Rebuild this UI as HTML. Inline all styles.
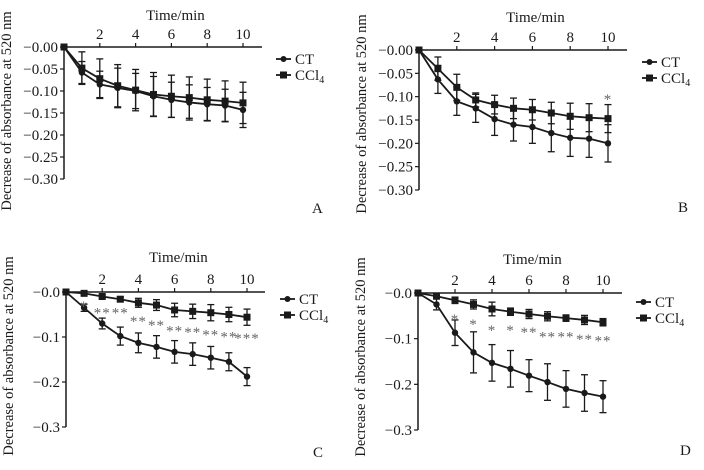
<!DOCTYPE html>
<html><head><meta charset="utf-8"><style>
html,body{margin:0;padding:0;background:#fff;}
svg{display:block;font-family:"Liberation Serif",serif;}
</style></head><body>
<svg id="fig" width="704" height="470" viewBox="0 0 704 470" xmlns="http://www.w3.org/2000/svg"></svg>
<script>
const times = [0,1,2,3,4,5,6,7,8,9,10];
const xTickLabels = ["2","4","6","8","10"];
const xTickValues = [2,4,6,8,10];
const yTicksAB = [0,-0.05,-0.10,-0.15,-0.20,-0.25,-0.30];
const yTickLabelsAB = ["-0.00","-0.05","-0.10","-0.15","-0.20","-0.25","-0.30"];
const yTicksCD = [0,-0.1,-0.2,-0.3];
const yTickLabelsCD = ["-0.0","-0.1","-0.2","-0.3"];

const aCT = [0,-0.058,-0.085,-0.093,-0.100,-0.112,-0.120,-0.126,-0.130,-0.133,-0.143];
const aCTerr = [0,0.025,0.030,0.045,0.040,0.045,0.040,0.040,0.038,0.037,0.040];
const aCCl4 = [0,-0.048,-0.072,-0.088,-0.098,-0.108,-0.112,-0.115,-0.120,-0.123,-0.127];
const aCCl4err = [0,0.037,0.045,0.048,0.047,0.050,0.048,0.047,0.047,0.046,0.047];
const aStars = [];
const aStarY = [];

const bCT = [0,-0.063,-0.110,-0.125,-0.148,-0.160,-0.165,-0.178,-0.188,-0.190,-0.200];
const bCTerr = [0,0.030,0.030,0.030,0.035,0.035,0.035,0.040,0.040,0.040,0.040];
const bCCl4 = [0,-0.040,-0.080,-0.107,-0.117,-0.125,-0.128,-0.135,-0.142,-0.145,-0.147];
const bCCl4err = [0,0.025,0.028,0.015,0.020,0.022,0.022,0.023,0.028,0.030,0.030];
const bStars = ["","","","","","","","","","","*"];
const bStarY = [0,0,0,0,0,0,0,0,0,0,-0.096];

const cCT = [0,-0.035,-0.070,-0.098,-0.113,-0.122,-0.133,-0.138,-0.146,-0.155,-0.188];
const cCTerr = [0,0.008,0.012,0.020,0.022,0.025,0.025,0.025,0.025,0.020,0.020];
const cCCl4 = [0,-0.003,-0.010,-0.016,-0.024,-0.029,-0.040,-0.043,-0.046,-0.050,-0.056];
const cCCl4err = [0,0.003,0.004,0.005,0.010,0.012,0.015,0.016,0.018,0.016,0.018];
const cStars = ["","*","**","**","**","**","**","**","**","**","***"];
const cStarY = [0,-0.022,-0.037,-0.037,-0.055,-0.064,-0.077,-0.080,-0.086,-0.090,-0.093];

const dCT = [0,-0.025,-0.087,-0.130,-0.153,-0.166,-0.181,-0.195,-0.210,-0.219,-0.227];
const dCTerr = [0,0.012,0.028,0.045,0.040,0.040,0.035,0.040,0.040,0.040,0.035];
const dCCl4 = [0,-0.007,-0.016,-0.025,-0.035,-0.041,-0.046,-0.051,-0.055,-0.059,-0.064];
const dCCl4err = [0,0.005,0.007,0.010,0.015,0.008,0.010,0.010,0.007,0.010,0.008];
const dStars = ["","","*","*","*","*","**","**","**","**","**"];
const dStarY = [0,0,-0.048,-0.059,-0.072,-0.072,-0.077,-0.086,-0.086,-0.092,-0.095];

const NS = "http://www.w3.org/2000/svg";
const svg = document.getElementById("fig");
function mk(tag, attrs, parent, text){
  const e = document.createElementNS(NS, tag);
  for (const k in attrs) e.setAttribute(k, attrs[k]);
  if (text !== undefined) e.textContent = text;
  (parent||svg).appendChild(e);
  return e;
}

function panel(cfg){
  const g = mk("g", {});
  
  
  const x = t => cfg.x0 + (cfg.x10 - cfg.x0) * t / 10;
  const y = v => cfg.y0 + (cfg.y30 - cfg.y0) * (v / -0.3);
  const col = "#1a1a1a";
  const xa = mk("line", {x1:cfg.x0, y1:cfg.y0, x2:cfg.xEnd, y2:cfg.y0, stroke:col, "stroke-width":1.5}, g);
  
  
  const ya = mk("line", {x1:cfg.x0, y1:cfg.y0, x2:cfg.x0, y2:cfg.y30, stroke:col, "stroke-width":1.5}, g);
  
  
  xTickValues.forEach((t,i)=>{
    mk("line",{x1:x(t),y1:cfg.y0,x2:x(t),y2:cfg.y0-4,stroke:col,"stroke-width":1.2},g);
    const tl = mk("text",{x:x(t),y:cfg.y0-8,"text-anchor":"middle","font-size":15,fill:col},g,xTickLabels[i]);
    
    
  });
  cfg.yt.forEach((v,i)=>{
    mk("line",{x1:cfg.x0,y1:y(v),x2:cfg.x0-4,y2:y(v),stroke:col,"stroke-width":1.2},g);
    const tl = mk("text",{x:cfg.x0-6,y:y(v)+5,"text-anchor":"end","font-size":15,fill:col},g,cfg.ytl[i].replace("-","\u2212"));
    
    
  });
  const xt = mk("text",{x:(cfg.x0+cfg.x10)/2+22,y:cfg.titleY,"text-anchor":"middle","font-size":15,fill:col},g,"Time/min");
  
  
  const yx = cfg.x0-53, ymid = cfg.y0 + 64;
  const yt = mk("text",{x:yx,y:ymid,"text-anchor":"middle","font-size":14.5,fill:col,transform:`rotate(-90 ${yx} ${ymid})`},g,"Decrease of absorbance at 520 nm");
  
  
  const series = [
    {v:cfg.ct, e:cfg.cte, shape:"circle", name:"ct"},
    {v:cfg.cc, e:cfg.cce, shape:"square", name:"ccl4"}
  ];
  series.forEach(s=>{
    const pts = times.map((t,i)=>x(t)+","+y(s.v[i])).join(" ");
    const pl = mk("polyline",{points:pts,fill:"none",stroke:col,"stroke-width":1.8},g);
    
    
    times.forEach((t,i)=>{
      if (s.e[i] > 0){
        const hi = y(s.v[i]+s.e[i]), lo = y(s.v[i]-s.e[i]);
        mk("line",{x1:x(t),y1:hi,x2:x(t),y2:lo,stroke:col,"stroke-width":1.3},g);
        mk("line",{x1:x(t)-3.5,y1:hi,x2:x(t)+3.5,y2:hi,stroke:col,"stroke-width":1.3},g);
        mk("line",{x1:x(t)-3.5,y1:lo,x2:x(t)+3.5,y2:lo,stroke:col,"stroke-width":1.3},g);
      }
      let m;
      if (s.shape==="circle") m = mk("circle",{cx:x(t),cy:y(s.v[i]),r:3.2,fill:col},g);
      else m = mk("rect",{x:x(t)-3.5,y:y(s.v[i])-3.5,width:7,height:7,fill:col},g);
      
      
    });
  });
  cfg.stars.forEach((s,i)=>{
    if (!s) return;
    const st = mk("text",{x:x(times[i]),y:y(cfg.starY[i])+9,"text-anchor":"middle","font-size":15,fill:"#666","letter-spacing":"1"},g,s);
    
    
  });
  const lx = cfg.legX;
  [["CT","circle",cfg.legY],["CCl","square",cfg.legY+16]].forEach(([lab,shape,ly])=>{
    const lg = mk("g",{},g);
    
    
    mk("line",{x1:lx,y1:ly,x2:lx+15,y2:ly,stroke:col,"stroke-width":1.8},lg);
    if (shape==="circle") mk("circle",{cx:lx+7.5,cy:ly,r:3,fill:col},lg);
    else mk("rect",{x:lx+4,y:ly-3.5,width:7,height:7,fill:col},lg);
    const t = mk("text",{x:lx+19,y:ly+5,"font-size":15,fill:col},lg,lab);
    if (shape==="square") mk("tspan",{"font-size":10,dy:3},t,"4");
  });
  const pl = mk("text",{x:cfg.lblX,y:cfg.lblY,"font-size":15,fill:col},g,cfg.label);
  
  
}

panel({label:"A",x0:64,x10:243,xEnd:262,y0:47,y30:179,yt:yTicksAB,ytl:yTickLabelsAB,titleY:20,
  ct:aCT,cte:aCTerr,cc:aCCl4,cce:aCCl4err,stars:aStars,starY:aStarY,legX:276,legY:59,lblX:312,lblY:213});
panel({label:"B",x0:419,x10:608,xEnd:627,y0:50,y30:190,yt:yTicksAB,ytl:yTickLabelsAB,titleY:22,
  ct:bCT,cte:bCTerr,cc:bCCl4,cce:bCCl4err,stars:bStars,starY:bStarY,legX:642,legY:62,lblX:678,lblY:212});
panel({label:"C",x0:66,x10:247,xEnd:265,y0:292,y30:427,yt:yTicksCD,ytl:yTickLabelsCD,titleY:262,
  ct:cCT,cte:cCTerr,cc:cCCl4,cce:cCCl4err,stars:cStars,starY:cStarY,legX:280,legY:299,lblX:313,lblY:457});
panel({label:"D",x0:418,x10:603,xEnd:622,y0:293,y30:430,yt:yTicksCD,ytl:yTickLabelsCD,titleY:264,
  ct:dCT,cte:dCTerr,cc:dCCl4,cce:dCCl4err,stars:dStars,starY:dStarY,legX:636,legY:302,lblX:680,lblY:455});
</script>
</body></html>
